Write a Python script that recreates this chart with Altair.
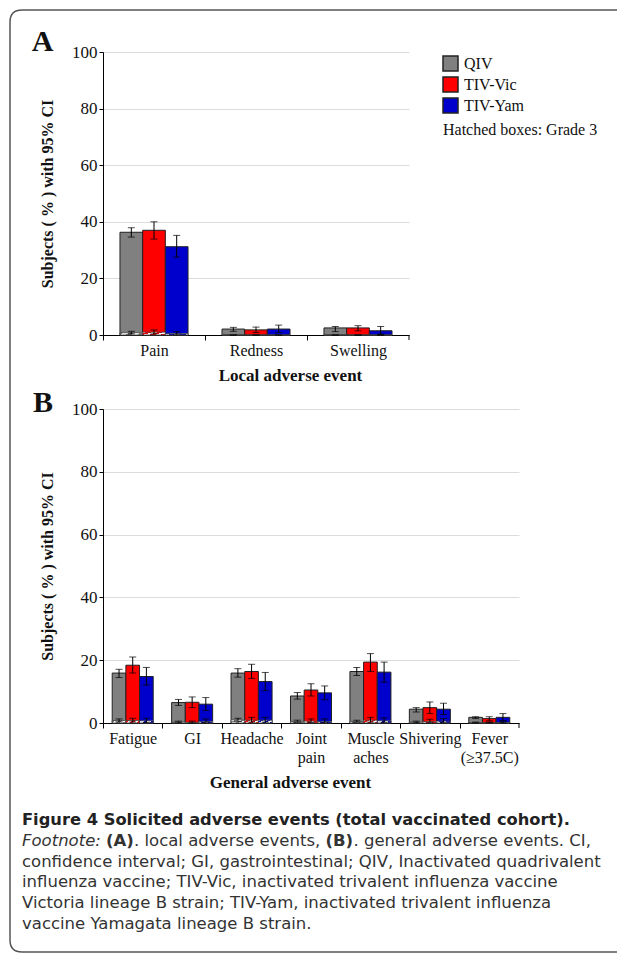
import altair as alt
import pandas as pd

SERIES = ["QIV", "TIV-Vic", "TIV-Yam"]
COLORS = ["#808080", "#ff0000", "#0000cc"]

# Panel A: local adverse events
A_CATS = ["Pain", "Redness", "Swelling"]
A_PCT = {"QIV": [36.3, 2.1, 2.5], "TIV-Vic": [37.0, 1.8, 2.5], "TIV-Yam": [31.2, 2.1, 1.5]}
A_LO = {"QIV": [34.6, 1.3, 1.2], "TIV-Vic": [33.9, 0.9, 1.5], "TIV-Yam": [27.5, 0.9, 0.3]}
A_HI = {"QIV": [37.9, 2.7, 3.0], "TIV-Vic": [40.0, 2.8, 3.3], "TIV-Yam": [35.2, 3.5, 3.0]}
A_G3 = {"QIV": [0.8, 0.0, 0.0], "TIV-Vic": [1.0, 0.0, 0.0], "TIV-Yam": [0.5, 0.0, 0.0]}
A_G3_LO = {"QIV": [0.4, 0.0, 0.0], "TIV-Vic": [0.4, 0.0, 0.0], "TIV-Yam": [0.1, 0.0, 0.0]}
A_G3_HI = {"QIV": [1.3, 0.0, 0.0], "TIV-Vic": [1.8, 0.0, 0.0], "TIV-Yam": [1.2, 0.0, 0.0]}

# Panel B: general adverse events
B_CATS = ["Fatigue", "GI", "Headache", "Joint|pain", "Muscle|aches", "Shivering", "Fever|(≥37.5C)"]
B_PCT = {"QIV": [15.9, 6.5, 15.9, 8.6, 16.4, 4.4, 1.8],
         "TIV-Vic": [18.4, 6.6, 16.4, 10.5, 19.4, 4.9, 1.4],
         "TIV-Yam": [14.8, 6.0, 13.2, 9.6, 16.2, 4.4, 1.8]}
B_LO = {"QIV": [14.5, 5.6, 14.6, 7.6, 15.1, 3.5, 1.4],
        "TIV-Vic": [15.9, 4.9, 14.2, 8.6, 16.4, 3.0, 0.7],
        "TIV-Yam": [12.1, 4.0, 10.3, 7.4, 13.0, 2.7, 0.8]}
B_HI = {"QIV": [17.1, 7.5, 17.3, 9.7, 17.7, 4.9, 2.0],
        "TIV-Vic": [21.0, 8.3, 18.7, 12.5, 22.1, 6.7, 2.0],
        "TIV-Yam": [17.7, 8.1, 16.1, 11.8, 19.4, 6.3, 3.0]}
B_G3 = {"QIV": [0.8, 0.3, 1.0, 0.5, 0.5, 0.3, 0.1],
        "TIV-Vic": [0.8, 0.2, 0.9, 0.6, 0.9, 0.5, 0.0],
        "TIV-Yam": [0.7, 0.5, 0.9, 0.5, 0.7, 0.6, 0.1]}
B_G3_LO = {"QIV": [0.4, 0.1, 0.5, 0.2, 0.2, 0.1, 0.0],
           "TIV-Vic": [0.3, 0.0, 0.3, 0.2, 0.3, 0.1, 0.0],
           "TIV-Yam": [0.2, 0.1, 0.3, 0.1, 0.2, 0.1, 0.0]}
B_G3_HI = {"QIV": [1.3, 0.6, 1.5, 0.9, 0.9, 0.6, 0.3],
           "TIV-Vic": [1.5, 0.6, 1.8, 1.3, 1.8, 1.2, 0.3],
           "TIV-Yam": [1.5, 1.3, 1.8, 1.3, 1.6, 1.4, 0.4]}

CAPTION_TITLE = "Figure 4 Solicited adverse events (total vaccinated cohort)."
FOOT_L2 = [("Footnote:", "italic", "normal", 22), ("(A)", "normal", "bold", 106),
           (". local adverse events,", "normal", "normal", 134), ("(B)", "normal", "bold", 325.5),
           (". general adverse events. CI,", "normal", "normal", 353.5)]
FOOT_LINES = ["confidence interval; GI, gastrointestinal; QIV, Inactivated quadrivalent",
              "influenza vaccine; TIV-Vic, inactivated trivalent influenza vaccine",
              "Victoria lineage B strain; TIV-Yam, inactivated trivalent influenza",
              "vaccine Yamagata lineage B strain."]


def table(cats, pct, lo, hi, g3, g3lo, g3hi):
    rows = []
    for i, c in enumerate(cats):
        for s in SERIES:
            rows.append(dict(cat=c, series=s, pct=pct[s][i], lo=lo[s][i], hi=hi[s][i],
                             g3=g3[s][i], g3lo=g3lo[s][i], g3hi=g3hi[s][i]))
    return pd.DataFrame(rows)


df_a = table(A_CATS, A_PCT, A_LO, A_HI, A_G3, A_G3_LO, A_G3_HI)
df_b = table(B_CATS, B_PCT, B_LO, B_HI, B_G3, B_G3_LO, B_G3_HI)
one = pd.DataFrame({"k": [0]})


def hatch(color):
    stops = []
    n = 8
    for i in range(n):
        c = color if i % 2 == 0 else "#ffffff"
        stops.append({"offset": i / n, "color": c})
        stops.append({"offset": (i + 1) / n, "color": c})
    return {"gradient": "linear", "x1": 0, "y1": 1, "x2": 1, "y2": 0, "stops": stops}


def panel(df, cats, width, height, pad_inner, xtitle, xtitle_y, show_legend):
    step = width / len(cats)
    ox = alt.X("cat:N", sort=cats, scale=alt.Scale(paddingInner=pad_inner, paddingOuter=pad_inner / 2),
               axis=alt.Axis(labelAngle=0, labelFontSize=16, labelColor="#111",
                             labelPadding=2, tickSize=5, tickColor="black",
                             tickOffset=-step / 2, labelOffset=step / 2,
                             domainColor="black",
                             labelExpr="split(datum.label, '|')", labelLineHeight=19,
                             title=xtitle, titleFontSize=17, titleFontWeight="bold", titleColor="#111",
                             titleX=187, titleY=xtitle_y, titleBaseline="alphabetic", grid=False))
    xo = alt.XOffset("series:N", sort=SERIES, scale=alt.Scale(domain=SERIES, paddingInner=0, paddingOuter=0))
    base = alt.Chart(df).encode(x=ox, xOffset=xo)
    yaxis = alt.Axis(values=[0, 20, 40, 60, 80, 100], grid=True, gridColor="#dcdcdc", gridWidth=1,
                     domainColor="black", tickColor="black", tickSize=4, labelFontSize=17,
                     labelColor="#111", labelPadding=2, title="Subjects ( % ) with 95% CI",
                     titleFontSize=16, titleFontWeight="bold", titleColor="#111",
                     titleX=-56, titleBaseline="middle")
    if show_legend:
        leg = alt.Legend(orient="none", legendX=339, legendY=3, title=None, symbolType="square",
                         symbolSize=225, symbolStrokeColor="#222", symbolStrokeWidth=1.5,
                         symbolOpacity=1, labelFontSize=16, labelFont="Liberation Serif",
                         labelColor="#111", rowPadding=0, labelOffset=5, padding=0)
    else:
        leg = None
    bars = base.mark_bar(stroke="#222", strokeWidth=1, opacity=1).encode(
        y=alt.Y("pct:Q", scale=alt.Scale(domain=[0, 100]), axis=yaxis),
        color=alt.Color("series:N", sort=SERIES, scale=alt.Scale(domain=SERIES, range=COLORS), legend=leg))
    layers = [bars]
    for s, c in zip(SERIES, COLORS):
        layers.append(base.transform_filter(alt.datum.series == s).mark_bar(
            fill=hatch(c), stroke="#444", strokeWidth=0.8).encode(y="g3:Q"))
    for lo, hi in (("lo", "hi"), ("g3lo", "g3hi")):
        layers.append(base.mark_rule(color="black", strokeWidth=1).encode(y=f"{lo}:Q", y2=f"{hi}:Q"))
        layers.append(base.mark_tick(color="black", size=7, thickness=1, orient="horizontal").encode(y=f"{lo}:Q"))
        layers.append(base.mark_tick(color="black", size=7, thickness=1, orient="horizontal").encode(y=f"{hi}:Q"))
    # closing axis tick at the right end of the category axis
    layers.append(alt.Chart(one).mark_rule(color="black", strokeWidth=1).encode(
        x=alt.value(width), y=alt.value(height), y2=alt.value(height + 5)))
    return layers


NOVIEW = alt.ViewBackground(stroke=None, strokeWidth=0)

layers_a = panel(df_a, A_CATS, 306, 283, 0.333, "Local adverse event", 45, True)
deco = alt.Chart(one)
fwd = "M 514 -42 L -81 -42 Q -93 -42 -93 -30 L -93 888 Q -93 900 -81 900 L 514 900"
back = " L -81 900 Q -93 900 -93 888 L -93 -30 Q -93 -42 -81 -42 L 514 -42"
layers_a.append(deco.mark_point(shape=fwd + back, size=4, filled=False, stroke="#555",
                                strokeWidth=1.5, opacity=1).encode(x=alt.value(0), y=alt.value(0)))
layers_a.append(deco.mark_text(text="A", font="Liberation Serif", fontSize=30, fontWeight="bold",
                               color="#111", align="center", baseline="alphabetic").encode(
    x=alt.value(-60.5), y=alt.value(-1)))
layers_a.append(deco.mark_text(text="Hatched boxes: Grade 3", font="Liberation Serif", fontSize=16,
                               color="#111", align="left", baseline="middle").encode(
    x=alt.value(340), y=alt.value(78)))
chart_a = alt.layer(*layers_a).properties(width=306, height=283, view=NOVIEW)

layers_b = panel(df_b, B_CATS, 416, 314, 0.31, "General adverse event", 64, False)
layers_b.append(deco.mark_text(text="B", font="Liberation Serif", fontSize=30, fontWeight="bold",
                               color="#111", align="center", baseline="alphabetic").encode(
    x=alt.value(-60), y=alt.value(3)))
OX, OY = 103, 409
CAP_FONT = "DejaVu Sans"
layers_b.append(deco.mark_text(text=CAPTION_TITLE, font=CAP_FONT, fontSize=16.3, fontWeight="bold",
                               color="#222", align="left", baseline="alphabetic").encode(
    x=alt.value(22 - OX), y=alt.value(825 - OY)))
for txt, style, weight, px in FOOT_L2:
    layers_b.append(deco.mark_text(text=txt, font=CAP_FONT, fontSize=16.5, fontStyle=style,
                                   fontWeight=weight, color="#333", align="left",
                                   baseline="alphabetic").encode(
        x=alt.value(px - OX), y=alt.value(845.5 - OY)))
for i, line in enumerate(FOOT_LINES):
    layers_b.append(deco.mark_text(text=line, font=CAP_FONT, fontSize=16.5, color="#333",
                                   align="left", baseline="alphabetic").encode(
        x=alt.value(22 - OX), y=alt.value(866.5 + 20.8 * i - OY)))
chart_b = alt.layer(*layers_b).properties(width=416, height=314, view=NOVIEW)

chart = alt.vconcat(chart_a, chart_b, spacing=74, bounds="flush").resolve_scale(
    color="independent", x="independent", y="independent", xOffset="independent"
).properties(autosize=alt.AutoSizeParams(type="none"),
             padding={"left": 95, "top": 44, "right": 514, "bottom": 901}).configure_view(
    stroke=None).configure(font="Liberation Serif", background="white")

chart.save("out.html", embed_options={"renderer": "svg", "actions": False})
